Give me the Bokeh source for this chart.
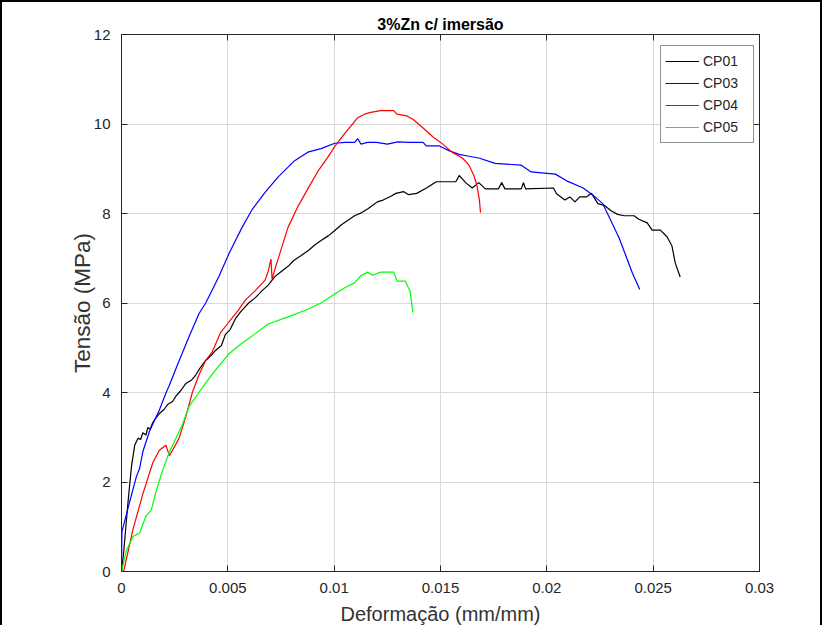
from bokeh.plotting import figure
from bokeh.models import FixedTicker, LinearAxis, CustomJSTickFormatter, Range1d, Legend
from bokeh.embed import file_html
from bokeh.resources import INLINE

# ---- data (strain mm/mm, stress MPa) ----
cp01_x = [0, 0.00011, 0.00031, 0.00047, 0.00062, 0.00078, 0.0009, 0.001, 0.00115, 0.00124, 0.00135, 0.00147,
          0.00165, 0.00178, 0.002, 0.00217, 0.0024, 0.00256, 0.0028, 0.00302, 0.0033, 0.00349, 0.0037, 0.00395,
          0.0042, 0.00442, 0.0047, 0.00489, 0.0051, 0.00536, 0.0056, 0.00598, 0.0063, 0.0066, 0.0069, 0.00721,
          0.0075, 0.00783, 0.0081, 0.00845, 0.0088, 0.00907, 0.0094, 0.00972, 0.01003, 0.01034, 0.01065, 0.01096,
          0.0113, 0.01157, 0.0118, 0.01203, 0.0123, 0.01265, 0.0129, 0.01326, 0.0135, 0.01388, 0.01434, 0.0148,
          0.01572, 0.01588, 0.01618, 0.01649, 0.0168, 0.01711, 0.01772, 0.01788, 0.01803, 0.0188, 0.0189, 0.019,
          0.02031, 0.02046, 0.02085, 0.02108, 0.02132, 0.02155, 0.02186, 0.0221, 0.0224, 0.02271, 0.02302, 0.02333,
          0.02364, 0.0241, 0.02433, 0.02472, 0.02495, 0.02534, 0.02565, 0.02588, 0.02604, 0.02627]
cp01_y = [0, 0.47, 1.57, 2.35, 2.82, 2.98, 2.95, 3.10, 3.05, 3.22, 3.18, 3.33,
          3.45, 3.53, 3.62, 3.73, 3.80, 3.92, 4.05, 4.20, 4.28, 4.39, 4.55, 4.71,
          4.82, 4.94, 5.05, 5.30, 5.40, 5.65, 5.80, 6.00, 6.12, 6.27, 6.40, 6.59,
          6.70, 6.82, 6.95, 7.06, 7.18, 7.29, 7.40, 7.50, 7.62, 7.75, 7.85, 7.95,
          8.02, 8.10, 8.18, 8.26, 8.30, 8.38, 8.45, 8.49, 8.42, 8.45, 8.57, 8.71,
          8.71, 8.85, 8.69, 8.57, 8.69, 8.55, 8.55, 8.69, 8.55, 8.55, 8.69, 8.55,
          8.57, 8.44, 8.30, 8.37, 8.26, 8.37, 8.37, 8.45, 8.22, 8.18, 8.06, 7.98,
          7.95, 7.95, 7.87, 7.79, 7.63, 7.63, 7.48, 7.28, 6.89, 6.58]

cp03_x = [0, 0.00002, 0.00005, 0.00039, 0.0007, 0.00085, 0.001, 0.00132, 0.00178, 0.0021, 0.00225, 0.00271,
          0.00318, 0.00364, 0.00396, 0.00458, 0.00505, 0.00567, 0.00613, 0.00675, 0.00737, 0.00814, 0.00876,
          0.00938, 0.01003, 0.0105, 0.01096, 0.01111, 0.01126, 0.01157, 0.012, 0.0125, 0.013, 0.0135, 0.01418,
          0.01433, 0.01495, 0.01542, 0.01588, 0.01634, 0.0168, 0.01757, 0.0188, 0.01926, 0.0204, 0.02093,
          0.02171, 0.02217, 0.02263, 0.02302, 0.02341, 0.02372, 0.02403, 0.02437]
cp03_y = [0, 0.90, 0.94, 1.57, 2.12, 2.30, 2.67, 3.14, 3.61, 4.00, 4.16, 4.71,
          5.25, 5.76, 6.00, 6.59, 7.10, 7.69, 8.08, 8.47, 8.82, 9.18, 9.37,
          9.45, 9.57, 9.59, 9.59, 9.67, 9.55, 9.59, 9.59, 9.55, 9.60, 9.59, 9.59,
          9.51, 9.51, 9.40, 9.32, 9.28, 9.24, 9.12, 9.08, 8.93, 8.88, 8.73,
          8.57, 8.41, 8.22, 7.83, 7.44, 7.05, 6.66, 6.30]

cp04_x = [0.0001, 0.00054, 0.001, 0.00147, 0.00178, 0.00209, 0.00225, 0.0024, 0.00271, 0.00302, 0.00333,
          0.00364, 0.00395, 0.00426, 0.00465, 0.00504, 0.0055, 0.00581, 0.00628, 0.00675, 0.0069, 0.00703,
          0.00708, 0.00721, 0.00752, 0.00783, 0.0083, 0.00876, 0.00923, 0.00969, 0.01003, 0.0105, 0.01111,
          0.01142, 0.01172, 0.01218, 0.0128, 0.01295, 0.01342, 0.01372, 0.01418, 0.01465, 0.01511, 0.01557,
          0.01603, 0.01634, 0.01657, 0.01672, 0.01683, 0.01688]
cp04_y = [0, 0.94, 1.73, 2.43, 2.71, 2.82, 2.59, 2.71, 2.98, 3.45, 4.00,
          4.39, 4.71, 4.90, 5.33, 5.57, 5.84, 6.06, 6.27, 6.51, 6.71, 6.98,
          6.53, 6.75, 7.22, 7.69, 8.16, 8.55, 8.94, 9.25, 9.50, 9.79, 10.14,
          10.22, 10.26, 10.30, 10.30, 10.22, 10.18, 10.10, 9.91, 9.71, 9.55, 9.36,
          9.24, 9.08, 8.85, 8.61, 8.30, 8.02]

cp05_x = [0, 0.00023, 0.00054, 0.00085, 0.00116, 0.0014, 0.00163, 0.00194, 0.00225, 0.00256, 0.00287,
          0.00318, 0.00364, 0.00411, 0.00457, 0.00504, 0.00566, 0.00628, 0.0069, 0.00783, 0.00876, 0.00938,
          0.01003, 0.0105, 0.01096, 0.01126, 0.01157, 0.0118, 0.01218, 0.0128, 0.01295, 0.01334, 0.01357,
          0.0137]
cp05_y = [0, 0.47, 0.78, 0.86, 1.25, 1.37, 1.80, 2.27, 2.67, 2.98, 3.29,
          3.69, 4.00, 4.31, 4.59, 4.86, 5.10, 5.31, 5.53, 5.69, 5.86, 6.00,
          6.20, 6.34, 6.45, 6.61, 6.69, 6.62, 6.69, 6.69, 6.49, 6.49, 6.26,
          5.79]

series_names = ["CP01", "CP03", "CP04", "CP05"]
series_colors = ["#000000", "#0000ff", "#ff0000", "#00ff00"]
x_ticks = [0, 0.005, 0.01, 0.015, 0.02, 0.025, 0.03]
x_tick_labels = ["0", "0.005", "0.01", "0.015", "0.02", "0.025", "0.03"]
y_ticks = [0, 2, 4, 6, 8, 10, 12]
title_text = "3%Zn c/ imersão"

FONT = "Liberation Sans"
AX = "#262626"
LBL = "#333333"

p = figure(width=822, height=625, output_backend="svg", toolbar_location=None,
           x_range=Range1d(x_ticks[0], x_ticks[-1]), y_range=Range1d(y_ticks[0], y_ticks[-1]),
           min_border_left=119, min_border_right=65, min_border_top=32, min_border_bottom=56,
           title=title_text)
p.styles = {"border-left": "2px solid black", "border-top": "2px solid black",
            "border-right": "2px solid black"}

p.title.align = "center"
p.title.vertical_align = "top"
p.title.text_font = FONT
p.title.text_font_size = "16px"
p.title.text_font_style = "bold"
p.title.text_color = "#000000"
p.title.standoff = 0

p.outline_line_color = AX
p.outline_line_width = 1
p.background_fill_color = "white"
p.border_fill_color = "white"

for ax in (p.xaxis[0], p.yaxis[0]):
    ax.axis_line_color = AX
    ax.major_tick_line_color = AX
    ax.major_tick_in = 6
    ax.major_tick_out = 0
    ax.minor_tick_line_color = None
    ax.major_label_text_font = FONT
    ax.major_label_text_font_size = "15px"
    ax.major_label_text_color = AX
    ax.axis_label_text_font = FONT
    ax.axis_label_text_font_style = "normal"
    ax.axis_label_text_color = LBL

p.xaxis.axis_label_text_font_size = "20px"
p.yaxis.axis_label_text_font_size = "22.5px"
p.xaxis.ticker = FixedTicker(ticks=x_ticks)
p.xaxis.major_label_overrides = {t: l for t, l in zip(x_ticks, x_tick_labels)}
p.yaxis.ticker = FixedTicker(ticks=y_ticks)
p.xaxis.axis_label = "Deformação (mm/mm)"
p.yaxis.axis_label = "Tensão (MPa)"
p.xaxis.major_label_standoff = 11
p.xaxis.axis_label_standoff = 7
p.yaxis.major_label_standoff = 11
p.yaxis.axis_label_standoff = -4

# unlabeled box axes (MATLAB "box on"); the top one also spaces the title away from the frame
blank = CustomJSTickFormatter(code="return ''")
top_ax = LinearAxis(ticker=FixedTicker(ticks=x_ticks), formatter=blank, major_tick_in=6, major_tick_out=0,
                    minor_tick_line_color=None, axis_line_color=AX, major_tick_line_color=AX,
                    major_label_standoff=10)
right_ax = LinearAxis(ticker=FixedTicker(ticks=y_ticks), formatter=blank, major_tick_in=6, major_tick_out=0,
                      minor_tick_line_color=None, axis_line_color=AX, major_tick_line_color=AX,
                      major_label_standoff=0)
p.add_layout(top_ax, "above")
p.add_layout(right_ax, "right")

p.xgrid.ticker = FixedTicker(ticks=x_ticks)
p.ygrid.ticker = FixedTicker(ticks=y_ticks)
p.grid.grid_line_color = "#d9d9d9"
p.grid.grid_line_width = 1

xs = [cp01_x, cp03_x, cp04_x, cp05_x]
ys = [cp01_y, cp03_y, cp04_y, cp05_y]
items = []
for name, col, x, y in zip(series_names, series_colors, xs, ys):
    r = p.line(x, y, line_color=col, line_width=1.2)
    items.append((name, [r]))

legend = Legend(items=items, location=(539, 428))
legend.label_text_font = FONT
legend.label_text_font_size = "14px"
legend.label_text_color = AX
legend.border_line_color = AX
legend.border_line_width = 1
legend.background_fill_color = "white"
legend.background_fill_alpha = 1
legend.padding = 4
legend.spacing = 0
legend.margin = 0
legend.glyph_width = 34
legend.glyph_height = 22
legend.label_height = 22
legend.label_width = 46
legend.label_standoff = 4
p.add_layout(legend, "center")

open("out.html", "w").write(file_html(p, INLINE))
